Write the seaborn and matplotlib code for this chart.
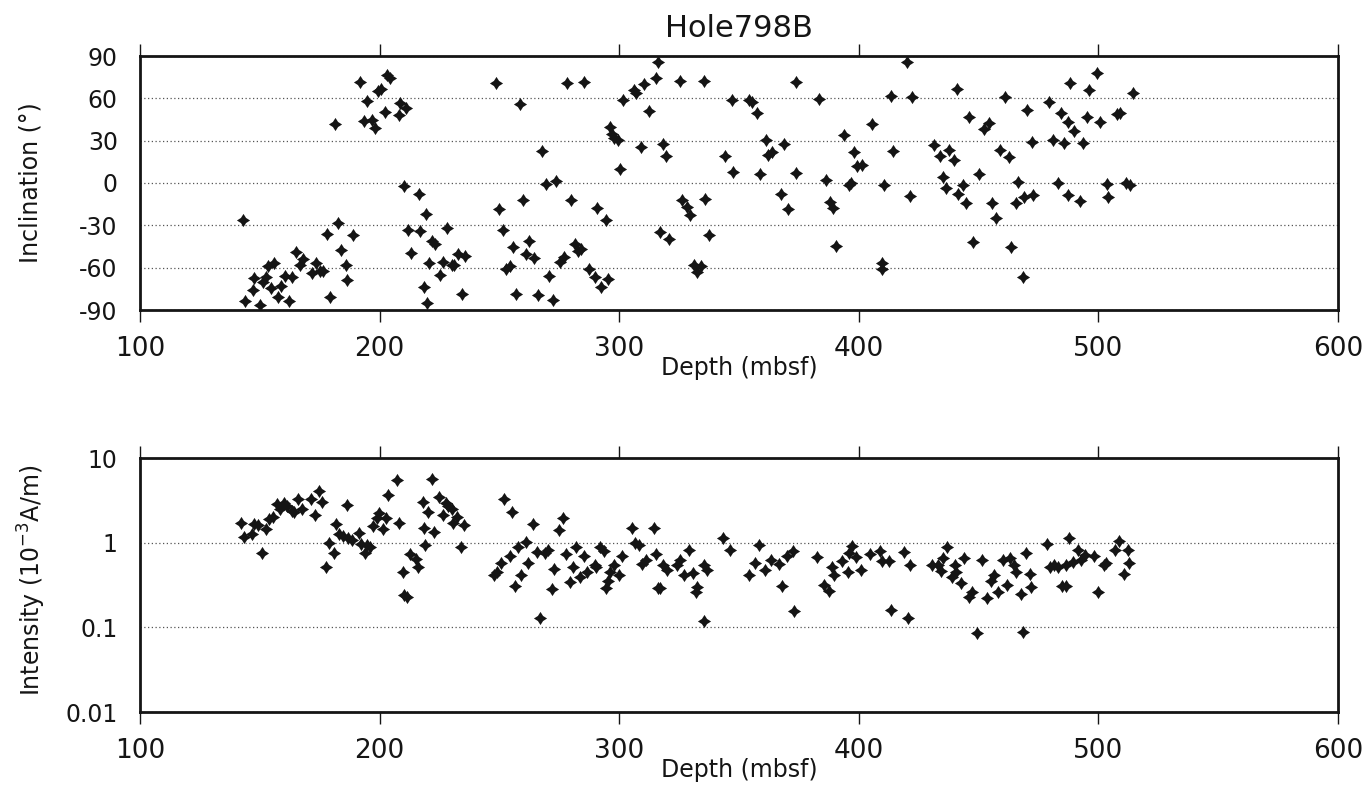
import numpy as np
import pandas as pd
import matplotlib
matplotlib.use("Agg")
import matplotlib.pyplot as plt
import seaborn as sns
from matplotlib.ticker import FixedLocator, NullLocator
from matplotlib.path import Path

# ---------------- data ----------------
inc_depth = [143, 143.8, 147.3, 147.7, 150.1, 151.2, 152.6, 153.6, 155.9, 154.5, 157.7, 158.8,
             160.5, 163.3, 162.2, 165, 166.9, 168, 171.9, 173.5, 175.1, 176.3, 177.9, 179.1,
             181.4, 182.6, 183.7, 186, 186.6, 188.7, 191.8, 193.6, 194.8, 196.7, 198, 199.4,
             200.4, 202.3, 203.2, 204.3, 208.2, 208.5, 211, 210.3, 212, 213.1, 216.3, 219.4,
             216.8, 218.5, 219.7, 220.8, 221.8, 223.2, 225.3, 226.6, 228,
             230.1, 231, 232.8, 235.6, 234.3, 248.6, 250, 251.4, 252.8, 254.4, 255.6, 256.9,
             258.6, 259.7, 261.1, 262.3, 264.4, 266, 267.7, 269.5, 270.6, 272.3, 273.5, 275.4,
             277, 278.1, 279.8, 281.6, 282.7, 284, 285.5, 287.2, 290, 290.7, 292.4, 294.5,
             295.3, 296.3, 297, 298, 299.3, 300.5, 301.6, 306, 307, 309.1, 310.2, 312.3, 315.4,
             316.1, 316.9, 318.3, 319.7, 320.7, 325.3, 326.3, 328.4, 329.6, 331.2, 332.6, 334.1,
             335.5, 335.8, 337.5, 344.2, 346.9, 347.7, 354, 355.3, 357.4, 358.6,
             361.3, 362.2, 363.6, 367.5, 368.8, 370.6, 373.8, 373.8, 383.4, 386.3, 388, 389.4,
             390.5, 393.8, 396, 396.7, 398, 399.4, 401.5, 405.7, 409.6, 409.6, 410.7, 413.3,
             414.2, 420, 421.2, 422.2, 431.5, 434, 435.1, 436.4, 437.5, 439.8, 441, 441.2,
             443.4, 444.7, 446.1, 447.6, 450, 452.1, 454.4, 455.8, 457.4, 458.8, 460.9, 462.5,
             463.7, 465.5, 466.5, 468.4, 469.1, 470.2, 472.3, 472.7, 479.5, 480.9, 483, 484.4,
             485.5, 487.2, 487.2, 488.3,
             490, 492.3, 493.7, 495.4, 496.2, 499.3, 500.7, 503.7, 504.2, 507.7, 509, 511.5,
             513.2, 514.3]
inclination = [-26, -83.5, -75.9, -67.4, -86.6, -70.4, -66.4, -58.6, -56.9, -74.5, -81.1, -73.3,
               -65.7, -66.9, -83.5, -48.6, -58.1, -53.8, -64.1, -56.9, -62.1, -62.1, -36, -80.6,
               41.5, -28.5, -47.2, -58.1, -68.5, -37.2, 71.4, 43.9, 58.1, 44.6, 38.7, 65.3,
               66.5, 50.1, 76.7, 74.7, 48.2, 56.9, 52.9, -2.1, -33, -49.5, -8, -22.3,
               -33.7, -73.5, -84.7, -56.7, -41.3, -43.2, -65.2, -56.2, -32,
               -57.9, -58.1, -50.3, -51.5, -78.7, 71.2, -18.2, -33.2, -60.9, -59.1, -45.6, -78.7,
               55.8, -12.3, -50.3, -41.3, -53.4, -79.2, 22.8, -0.4, -65.7, -83, 1.4, -55.7,
               -52.7, 70.7, -12.3, -43.1, -48.4, -46.7, 71.4, -60.9, -66.9, -17.8, -74, -26.5,
               -68, 39.4, 34.7, 31.6, 30.4, 9.8, 58.9, 66, 64, 25.6, 70, 51.2, 74.7,
               86.1, -34.4, 27.3, 19, -39.6, 72.6, -12.3, -17.1, -23, -57.9, -62.8, -58.6,
               72.6, -11.1, -36.7, 19, 58.9, 7.8, 58.9, 57.6, 49.4, 6.7,
               30.4, 19.7, 22.1, -8, 27.5, -18.7, 71.4, 7.4, 59.4, 1.9, -13.5, -17.8,
               -44.3, 33.9, -1.2, 0, 22.1, 12.1, 13.1, 41.5, -56.9, -60.9, -1.2, 61.7,
               22.6, 86.1, -9.5, 61.2, 26.8, 19.2, 4.3, -3.3, 23.3, 16.2, 66.7, -7.6,
               -1.2, -14.2, 46.5, -41.5, 6.7, 38, 42.7, -14, -24.9, 23.3, 60.8, 18.1,
               -45.6, -14.2, 0.7, -66.4, -10, 51.7, 28.8, -8.8, 57.7, 30.4, 0.3, 49.8,
               28.5, 43.4, -8.3, 70.7,
               37, -12.8, 28.5, 46.5, 66, 77.9, 43, -0.5, -10, 48.9, 49.4, 0.3,
               -1.6, 64]

int_depth = [142, 143.4, 146.6, 147.6, 149.4, 150.8, 152.6, 154, 155.6, 157, 158.4, 160.1,
             161.2, 163.3, 164.4, 166.1, 167.8, 171.4, 173.1, 174.5, 175.9, 177.5, 178.9, 181,
             181.9, 183.2, 184.9, 186.6, 187, 188.5, 191.2, 192.4, 193.9, 194.8, 196, 197.4,
             198.8, 199.8, 201.6, 202.7, 203.7, 207.4, 207.9, 209.9, 210.2, 211.3, 212.7, 215.2,
             216.2, 218.3, 218.6, 219, 220.4, 221.8, 222.9, 224.6, 226.3, 227.8, 228.7, 230.1,
             230.8, 232.2, 233.9, 235.3,
             247.9, 248.9, 250.7, 252.1, 254.5, 255.2, 256.5, 257.9, 259, 261, 262.1, 263.9,
             265.6, 267, 269.1, 270.1, 271.9, 272.9, 274.7, 276.5, 277.8, 279.3, 280.9, 282.1,
             283.7, 285.4, 286.5, 289.7, 290.5, 292.1, 293.5, 294.6, 295.3, 296.3, 297.7, 299.8,
             301.2, 305.4, 306.5, 308.4, 309.5, 311.3, 314.6, 315.4, 316.4, 317.2, 318.4, 320.1,
             324, 325.4, 327.2, 329.2, 330.6, 332.4, 332.2, 335.2, 335.2, 336.6, 343.5, 346.4,
             354, 356.8, 358.3, 360.8, 363.2, 366.8, 368, 369.9, 372.6, 372.9, 382.6, 385.5,
             387.7, 388.7, 389.8, 392.9, 395.4, 396.1, 397.1, 398.9, 400.9, 404.7, 408.9, 409.6,
             412.8, 413.3, 419, 420.4, 421.4, 430.5, 433.2, 434.2, 435.3, 436.8, 438.9, 440,
             440.7, 442.6, 444, 445.8, 447.2, 449.3, 451.6, 453.7, 455.1, 456.5, 458, 460,
             461.8, 462.9, 464.6, 465.6, 467.8, 468.4, 469.6, 471.3, 472, 478.5, 479.7, 481.3,
             483, 484.8, 486.6, 486.6, 487.6, 489.2, 491.6, 492.7, 494.5, 498.3, 499.9, 502.4,
             503.1, 507, 508.4, 510.5, 512.2, 512.9]
intensity = [1.72, 1.16, 1.25, 1.65, 1.6, 0.76, 1.44, 1.89, 2.03, 2.84, 2.48, 2.92,
             2.71, 2.37, 2.3, 3.25, 2.48, 3.25, 2.1, 4.08, 3.03, 0.51, 0.98, 0.76,
             1.65, 1.28, 1.2, 2.79, 1.15, 1.07, 1.31, 0.97, 0.75, 0.93, 0.89, 1.57,
             1.94, 2.27, 1.47, 1.94, 3.63, 5.46, 1.72, 0.45, 0.24, 0.23, 0.73, 0.65,
             0.51, 3.03, 1.48, 0.95, 2.33, 5.61, 1.35, 3.47, 2.1, 2.92, 2.71, 2.48,
             1.69, 2.01, 0.89, 1.62,
             0.42, 0.45, 0.58, 3.25, 0.69, 2.3, 0.31, 0.89, 0.41, 1.02, 0.57, 1.65,
             0.77, 0.13, 0.76, 0.83, 0.28, 0.49, 1.4, 1.94, 0.74, 0.34, 0.51, 0.89,
             0.39, 0.69, 0.45, 0.55, 0.52, 0.9, 0.8, 0.29, 0.35, 0.45, 0.55, 0.42,
             0.69, 1.48, 1.0, 0.93, 0.56, 0.62, 1.48, 0.74, 0.29, 0.29, 0.55, 0.47,
             0.54, 0.63, 0.41, 0.81, 0.44, 0.3, 0.26, 0.12, 0.54, 0.48, 1.15, 0.81,
             0.42, 0.58, 0.93, 0.48, 0.63, 0.56, 0.31, 0.69, 0.8, 0.155, 0.68, 0.32,
             0.27, 0.51, 0.42, 0.6, 0.45, 0.76, 0.91, 0.68, 0.47, 0.73, 0.8, 0.61,
             0.61, 0.16, 0.77, 0.13, 0.55, 0.54, 0.54, 0.46, 0.66, 0.89, 0.39, 0.54,
             0.45, 0.33, 0.66, 0.23, 0.26, 0.086, 0.62, 0.22, 0.35, 0.42, 0.26, 0.62,
             0.32, 0.66, 0.54, 0.45, 0.25, 0.087, 0.76, 0.43, 0.3, 0.97, 0.51, 0.54,
             0.51, 0.31, 0.31, 0.55, 1.12, 0.59, 0.83, 0.63, 0.71, 0.69, 0.26, 0.54,
             0.58, 0.81, 1.04, 0.43, 0.83, 0.58]

x_ticks = [100, 200, 300, 400, 500, 600]
inc_ticks = [-90, -60, -30, 0, 30, 60, 90]
int_ticks = [0.01, 0.1, 1, 10]
int_tick_labels = ["0.01", "0.1", "1", "10"]

title = "Hole798B"
xlabel = "Depth (mbsf)"
ylabel_top = "Inclination (°)"
ylabel_bottom = r"Intensity (10$^{-3}$A/m)"

# ---------------- style ----------------
sns.set_style("white")
plt.rcParams["font.family"] = ["DejaVu Sans"]
plt.rcParams["mathtext.fontset"] = "dejavusans"

INK = "#151515"
W, H = 1368, 790
fig = plt.figure(figsize=(W / 100, H / 100), dpi=100)
fig.patch.set_facecolor("white")

ax1 = fig.add_axes([140 / W, 1 - 310 / H, 1198 / W, 254 / H])
ax2 = fig.add_axes([140 / W, 1 - 712 / H, 1198 / W, 254 / H])

df_inc = pd.DataFrame({"depth": inc_depth, "inc": inclination})
df_int = pd.DataFrame({"depth": int_depth, "int": intensity})

# fat four-pointed star marker, like the reference's "✦"
marker = Path.unit_regular_star(4, innerCircle=0.55)
sns.scatterplot(data=df_inc, x="depth", y="inc", marker=marker, s=90, color=INK,
                linewidth=0, ax=ax1, zorder=3)
sns.scatterplot(data=df_int, x="depth", y="int", marker=marker, s=90, color=INK,
                linewidth=0, ax=ax2, zorder=3)

ax2.set_yscale("log")

for ax in (ax1, ax2):
    ax.set_xlim(100, 600)
    ax.xaxis.set_major_locator(FixedLocator(x_ticks))
    ax.set_xticklabels([str(t) for t in x_ticks])
    ax.xaxis.set_minor_locator(NullLocator())
    ax.yaxis.set_minor_locator(NullLocator())
    ax.tick_params(axis="x", which="major", direction="out", length=8.6, width=1.0,
                   top=True, bottom=True, labeltop=False, pad=10, labelsize=19,
                   colors=INK)
    ax.tick_params(axis="y", which="both", length=0, pad=16, labelsize=17,
                   labelcolor=INK)
    for sp in ax.spines.values():
        sp.set_visible(True)
        sp.set_linewidth(2.0)
        sp.set_color(INK)
    ax.set_xlabel(xlabel, fontsize=17, labelpad=-4, color=INK)
    ax.set_ylabel("")
    ax.grid(False)
    ax.yaxis.grid(True, linestyle=(0, (1, 2)), color="#555555", linewidth=0.9)
    ax.set_axisbelow(True)

ax1.set_ylim(-90, 90)
ax1.set_yticks(inc_ticks)
ax1.set_yticklabels([str(t) for t in inc_ticks])

ax2.set_ylim(0.01, 10)
ax2.yaxis.set_major_locator(FixedLocator(int_ticks))
ax2.set_yticklabels(int_tick_labels)
ax2.yaxis.set_minor_locator(NullLocator())

fig.text(739 / W, 1 - 37 / H, title, ha="center", va="baseline", fontsize=22, color=INK)
fig.text(31 / W, 1 - 183 / H, ylabel_top, rotation=90, ha="center", va="center",
         fontsize=17, color=INK)
fig.text(32 / W, 1 - 580 / H, ylabel_bottom, rotation=90, ha="center", va="center",
         fontsize=17, color=INK)

fig.savefig("out.png", dpi=100, facecolor="white")
